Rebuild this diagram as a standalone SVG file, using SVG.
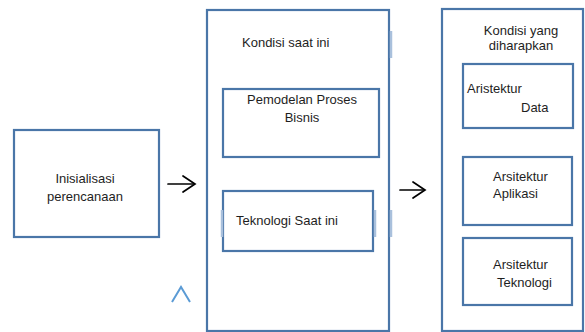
<svg xmlns="http://www.w3.org/2000/svg" width="585" height="332" viewBox="0 0 585 332">
<style>
.box{fill:#ffffff;stroke:#4a76a8;stroke-width:2.2}
.ghost{stroke:#a9c0dc;stroke-width:2.5;fill:none}
.t{font-family:"Liberation Sans",Arial,sans-serif;font-size:13px;fill:#1e1e1e}
.m{text-anchor:middle}
.arr{fill:none;stroke:#000;stroke-width:1.7;stroke-linecap:round;stroke-linejoin:miter}
</style>
<rect width="585" height="332" fill="#ffffff"/>
<g id="node-inisialisasi">
<rect class="box" x="14" y="130" width="145" height="107"/>
<text class="t m" x="85" y="183">Inisialisasi</text>
<text class="t m" x="85" y="201">perencanaan</text>
</g>
<g id="node-kondisi-saat-ini">
<rect class="box" x="207" y="10" width="182" height="321"/>
<line class="ghost" x1="391" y1="31" x2="391" y2="58"/>
<line class="ghost" x1="391" y1="210" x2="391" y2="237"/>
<text class="t" x="242" y="47">Kondisi saat ini</text>
</g>
<g id="node-pemodelan">
<rect class="box" x="223" y="89" width="156" height="68"/>
<text class="t m" x="302" y="104">Pemodelan Proses</text>
<text class="t m" x="302" y="122">Bisnis</text>
</g>
<g id="node-teknologi-saat-ini">
<rect class="box" x="223" y="191" width="150" height="60"/>
<line class="ghost" x1="222" y1="210" x2="222" y2="237"/>
<line class="ghost" x1="375" y1="210" x2="375" y2="237"/>
<text class="t" x="236" y="225">Teknologi Saat ini</text>
</g>
<g id="node-kondisi-diharapkan">
<rect class="box" x="442" y="9" width="141" height="322"/>
<text class="t m" x="521" y="35">Kondisi yang</text>
<text class="t m" x="521" y="50">diharapkan</text>
</g>
<g id="node-arsitektur-data">
<rect class="box" x="463" y="64" width="110" height="64"/>
<text class="t" x="467" y="93">Aristektur</text>
<text class="t" x="521" y="112">Data</text>
</g>
<g id="node-arsitektur-aplikasi">
<rect class="box" x="463" y="157" width="109" height="68"/>
<text class="t" x="493" y="181">Arsitektur</text>
<text class="t" x="493" y="198">Aplikasi</text>
</g>
<g id="node-arsitektur-teknologi">
<rect class="box" x="463" y="238" width="109" height="67"/>
<text class="t" x="493" y="269">Arsitektur</text>
<text class="t" x="497" y="287">Teknologi</text>
</g>
<g id="connectors">
<line class="arr" x1="168" y1="184" x2="194" y2="184"/>
<polyline class="arr" points="183,176 195,184 183,192"/>
<line class="arr" x1="400" y1="190" x2="424" y2="190"/>
<polyline class="arr" points="413,182 425,190 413,198"/>
<polyline points="172,302 181,287 190,302" fill="none" stroke="#5b9bd5" stroke-width="2"/>
</g>
</svg>
